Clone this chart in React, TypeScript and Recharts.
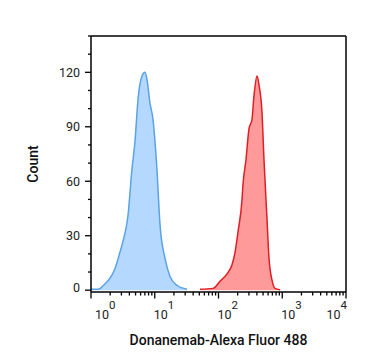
import React from 'react';
import { ComposedChart, Area, XAxis, YAxis, ReferenceLine, Label } from 'recharts';

// Blue histogram (isotype / negative control)
const blueX = [1.0, 1.29, 1.6, 1.99, 2.38, 2.85, 3.18, 3.8, 4.4, 4.9, 5.46, 6.31, 7.03, 7.56, 8.42, 9.39, 10.8, 12.1, 14.5, 17.3, 22.3, 32.1];
const blueCount = [0.5, 0.5, 3, 6.6, 12, 21, 27, 41, 67, 82, 105, 118, 120, 116, 103, 94, 67, 36, 17.5, 7.7, 2.7, 0.5];

// Red histogram (Donanemab-Alexa Fluor 488)
const redX = [51.3, 82.1, 106, 136, 163, 182, 202, 234, 242, 270, 301, 335, 360, 402, 432, 481, 517, 577, 620, 691, 770, 922];
const redCount = [0.5, 1, 5, 9, 14, 21, 32, 50, 58, 72, 89, 94, 107, 118, 113, 98, 72, 39, 17.5, 5.5, 1, 0.3];

const xTicks = [1, 2, 3, 4, 5, 6, 7, 8, 9, 10, 20, 30, 40, 50, 60, 70, 80, 90, 100, 200, 300, 400, 500, 600, 700, 800, 900, 1000, 2000, 3000, 4000, 5000, 6000, 7000, 8000, 9000, 10000];
const yTicks = [0, 10, 20, 30, 40, 50, 60, 70, 80, 90, 100, 110, 120, 130, 140];
const yLabels = [0, 30, 60, 90, 120];

const xTitle = 'Donanemab-Alexa Fluor 488';
const yTitle = 'Count';

type Row = { x: number; blue?: number; red?: number };
const rows: Row[] = [
  ...blueX.map((x, i) => ({ x, blue: blueCount[i] })),
  ...redX.map((x, i) => ({ x, red: redCount[i] })),
].sort((a, b) => a.x - b.x);

const FONT = 'Roboto, "Noto Sans", sans-serif';
const TXT = '#222';

const XTick = (props: any) => {
  const { x, y, payload } = props;
  const v = payload.value as number;
  const e = Math.log10(v);
  const major = Math.abs(e - Math.round(e)) < 1e-6;
  const exp = Math.round(e);
  let anchor: 'start' | 'end' = 'start';
  let tx = x - 1;
  if (exp === 0) tx = x + 4;
  if (exp === 4) {
    anchor = 'end';
    tx = x + 1;
  }
  return (
    <g>
      <line x1={x} x2={x} y1={y} y2={y + (major ? 6.5 : 3.5)} stroke="#000" strokeWidth={1.3} />
      {major && (
        <text x={tx} y={y + 27} textAnchor={anchor} fontFamily={FONT} fontSize={12.5} fill={TXT}>
          10
          <tspan dy={-10} fontSize={11.5}>{exp}</tspan>
        </text>
      )}
    </g>
  );
};

const YTick = (props: any) => {
  const { x, y, payload } = props;
  const v = payload.value as number;
  const major = yLabels.includes(v);
  const lift = v === 0 ? -3 : 0;
  return (
    <g>
      <line x1={x - (major ? 6 : 3)} x2={x} y1={y} y2={y} stroke="#000" strokeWidth={1.3} />
      {major && (
        <text x={x - 11} y={y + lift} dy="0.36em" textAnchor="end" fontFamily={FONT} fontSize={12.5} fill={TXT}>
          {v}
        </text>
      )}
    </g>
  );
};

export default function App() {
  return (
    <div style={{ position: 'absolute', left: 0, top: 0 }}>
      <ComposedChart width={367} height={364} data={rows} margin={{ top: 36, right: 21, bottom: 14, left: 0 }}>
        <XAxis
          dataKey="x"
          type="number"
          scale="log"
          domain={[1, 10000]}
          allowDataOverflow
          ticks={xTicks}
          interval={0}
          tick={<XTick />}
          tickLine={false}
          tickSize={0}
          tickMargin={0}
          height={58}
          axisLine={{ stroke: '#000', strokeWidth: 1.5 }}
        >
          <Label
            content={(p: any) => {
              const vb = p.viewBox;
              return (
                <text
                  x={vb.x + vb.width / 2}
                  y={vb.y + 53}
                  textAnchor="middle"
                  fontFamily={FONT}
                  fontSize={14}
                  fontWeight={500}
                  fill="#111"
                >
                  {xTitle}
                </text>
              );
            }}
          />
        </XAxis>
        <YAxis
          type="number"
          domain={[-1, 140]}
          allowDataOverflow
          ticks={yTicks}
          interval={0}
          tick={<YTick />}
          tickLine={false}
          tickSize={0}
          tickMargin={0}
          width={91}
          axisLine={{ stroke: '#000', strokeWidth: 1.5 }}
        >
          <Label
            content={(p: any) => {
              const vb = p.viewBox;
              const cx = vb.x + 33;
              const cy = vb.y + vb.height / 2;
              return (
                <text
                  x={cx}
                  y={cy}
                  transform={`rotate(-90 ${cx} ${cy})`}
                  textAnchor="middle"
                  dominantBaseline="central"
                  fontFamily={FONT}
                  fontSize={14}
                  fontWeight={500}
                  fill="#111"
                >
                  {yTitle}
                </text>
              );
            }}
          />
        </YAxis>
        <ReferenceLine y={140} stroke="#000" strokeWidth={1.5} />
        <ReferenceLine x={10000} stroke="#000" strokeWidth={1.5} />
        <Area
          type="monotone"
          dataKey="blue"
          connectNulls
          stroke="#5aa2e6"
          strokeWidth={1.5}
          fill="#b4d8ff"
          fillOpacity={1}
          dot={false}
          activeDot={false}
          isAnimationActive={false}
        />
        <Area
          type="monotone"
          dataKey="red"
          connectNulls
          stroke="#df1f26"
          strokeWidth={1.5}
          fill="#ff9a9a"
          fillOpacity={1}
          dot={false}
          activeDot={false}
          isAnimationActive={false}
        />
      </ComposedChart>
    </div>
  );
}
